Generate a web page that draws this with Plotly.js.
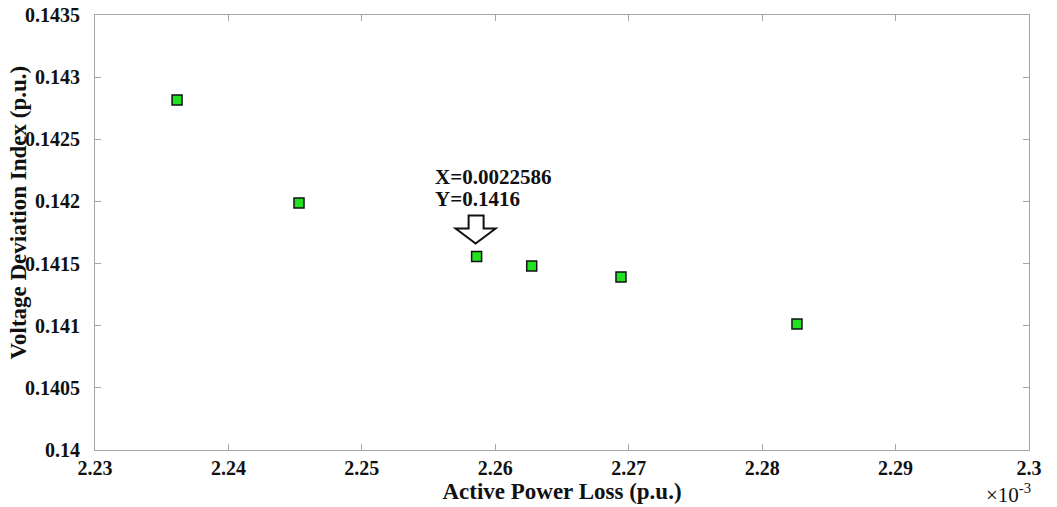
<!DOCTYPE html>
<html>
<head>
<meta charset="utf-8">
<script src="https://cdn.plot.ly/plotly-3.0.1.min.js"></script>
<style>html,body{margin:0;padding:0;background:#fff;}#chart{width:1057px;height:507px;}</style>
</head>
<body>
<div id="chart"></div>
<script>
// Data (x in p.u., shown in units of 1e-3 via tick labels)
const activePowerLoss = [0.00223615, 0.00224529, 0.0022586, 0.00226273, 0.00226942, 0.00228261];
const voltageDeviation = [0.142816, 0.141987, 0.141557, 0.141480, 0.141392, 0.141014];
const xTickVals = [0.00223, 0.00224, 0.00225, 0.00226, 0.00227, 0.00228, 0.00229, 0.0023];
const xTickText = ["2.23", "2.24", "2.25", "2.26", "2.27", "2.28", "2.29", "2.3"];
const yTickVals = [0.14, 0.1405, 0.141, 0.1415, 0.142, 0.1425, 0.143, 0.1435];
const yTickText = ["0.14", "0.1405", "0.141", "0.1415", "0.142", "0.1425", "0.143", "0.1435"];
const markedIndex = 2;
const markedLines = ["X=0.0022586", "Y=0.1416"];
const xTitle = "Active Power Loss (p.u.)";
const yTitle = "Voltage Deviation Index (p.u.)";
const exponentLabel = "×10<sup>-3</sup>";

const serif = "Liberation Serif";
function boldFont(size) { return {family: serif, size: size, color: "#111", weight: "bold"}; }
function serifLabel(t) { return '<span style="font-family:Liberation Serif;font-weight:bold">' + t + '</span>'; }
function axisBase() {
  return {
    showgrid: false, zeroline: false,
    showline: true, linecolor: "#a6a6a6", linewidth: 1, mirror: "ticks",
    ticks: "inside", ticklen: 6, tickcolor: "#a6a6a6", tickwidth: 1,
    tickmode: "array",
    tickfont: {family: serif, size: 20, color: "#111", weight: "bold"}
  };
}

const trace = {
  x: activePowerLoss, y: voltageDeviation, type: "scatter", mode: "markers",
  marker: {symbol: "square", size: 10, color: "#22e022", line: {color: "#111", width: 1.5}},
  hoverinfo: "x+y"
};

const mx = activePowerLoss[markedIndex], my = voltageDeviation[markedIndex];

const xaxis = axisBase();
Object.assign(xaxis, {
  range: [0.00223, 0.0023], tickvals: xTickVals, ticktext: xTickText.map(serifLabel),
  title: {text: xTitle, font: boldFont(23), standoff: 0}
});
const yaxis = axisBase();
Object.assign(yaxis, {
  range: [0.14, 0.1435], tickvals: yTickVals, ticktext: yTickText.map(serifLabel),
  ticklabelstandoff: 10
});

const layout = {
  width: 1057, height: 507,
  margin: {l: 95, r: 28, t: 15, b: 57},
  paper_bgcolor: "#fff", plot_bgcolor: "#fff",
  showlegend: false,
  font: {family: serif, size: 18, color: "#111", weight: "bold"},
  xaxis: xaxis,
  yaxis: yaxis,
  annotations: [
    {x: 0, y: 0.5, xref: "paper", yref: "paper", xanchor: "center", yanchor: "middle",
     xshift: -77, yshift: 20, textangle: -90, showarrow: false,
     text: yTitle, font: boldFont(23)},
    {x: mx, y: my, xref: "x", yref: "y", xanchor: "left", yanchor: "middle",
     xshift: -44, yshift: 79, showarrow: false, align: "left",
     text: markedLines[0], font: boldFont(21)},
    {x: mx, y: my, xref: "x", yref: "y", xanchor: "left", yanchor: "middle",
     xshift: -44, yshift: 57, showarrow: false, align: "left",
     text: markedLines[1], font: boldFont(21)},
    {x: 1, y: 0, xref: "paper", yref: "paper", xanchor: "right", yanchor: "top",
     yshift: -28, xshift: 4, showarrow: false,
     text: exponentLabel, font: {family: serif, size: 21, color: "#111", weight: "normal"}}
  ],
  shapes: [
    {type: "path", xref: "x", yref: "y", xsizemode: "pixel", ysizemode: "pixel",
     xanchor: mx, yanchor: my,
     path: "M -8,41 L 7,41 L 7,28 L 19,28 L -1,13 L -21,28 L -8,28 Z",
     line: {color: "#111", width: 2}, fillcolor: "#fff"}
  ]
};

Plotly.newPlot("chart", [trace], layout, {displayModeBar: false, staticPlot: true});
</script>
</body>
</html>
